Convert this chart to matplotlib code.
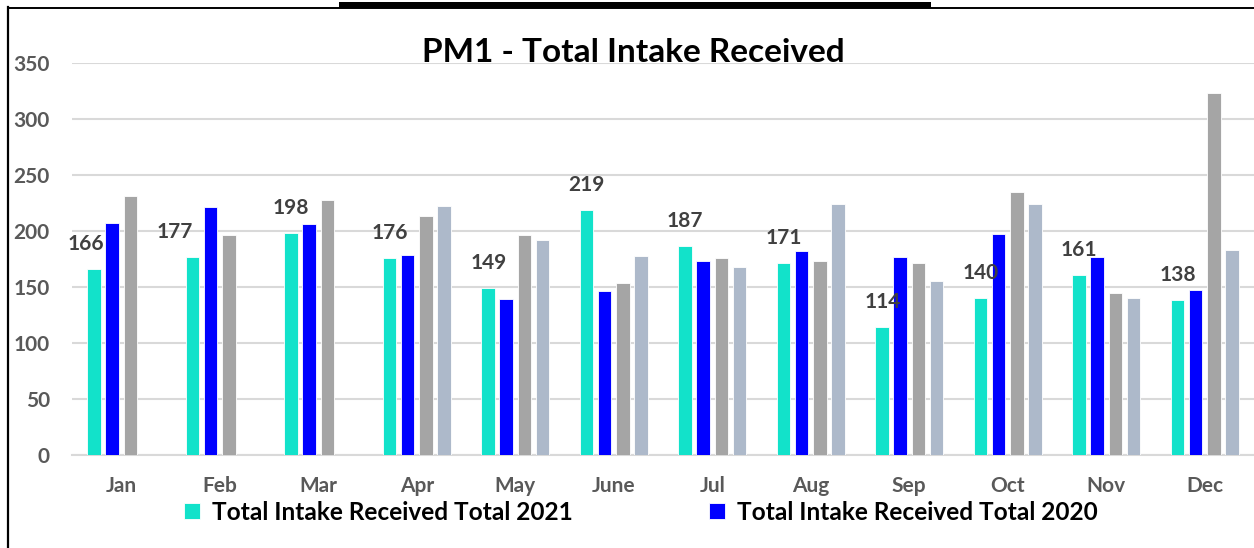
import numpy as np
import matplotlib
matplotlib.use("Agg")
import matplotlib.pyplot as plt
from matplotlib.lines import Line2D
from matplotlib.patches import Rectangle

months = ["Jan", "Feb", "Mar", "Apr", "May", "June", "Jul", "Aug", "Sep", "Oct", "Nov", "Dec"]
total_2021 = [166, 177, 198, 176, 149, 219, 187, 171, 114, 140, 161, 138]
total_2020 = [207, 221, 206, 179, 139, 146, 173, 182, 177, 197, 177, 147]
total_2019 = [231, 196, 228, 213, 196, 154, 176, 173, 171, 235, 145, 323]
total_2018 = [np.nan, np.nan, np.nan, 222, 192, 178, 168, 224, 155, 224, 140, 183]
yticks = [0, 50, 100, 150, 200, 250, 300, 350]
title = "PM1 - Total Intake Received"
legend_labels = ["Total Intake Received Total 2021", "Total Intake Received Total 2020"]

colors = ["#12E2CA", "#0000FF", "#A5A5A5", "#ADB9CA"]
FONT = "Lato"

W, H = 1254, 548
fig = plt.figure(figsize=(W / 100, H / 100), dpi=100)
fig.patch.set_facecolor("white")

left, right, bottom, top = 72, 1254, 455, 63
ax = fig.add_axes([left / W, 1 - bottom / H, (right - left) / W, (bottom - top) / H])

x = np.arange(len(months))
width = 0.137
pitch = 0.183
series = [total_2021, total_2020, total_2019, total_2018]
bars = []
for i, (vals, c) in enumerate(zip(series, colors)):
    b = ax.bar(x + (i - 1.5) * pitch, vals, width, color=c, edgecolor="white",
               linewidth=0.6, zorder=3)
    bars.append(b)

label_dx = {0: -6, 1: -13}
for i, (rect, v) in enumerate(zip(bars[0], total_2021)):
    ax.annotate(str(v), (rect.get_x() + rect.get_width() / 2, v),
                xytext=(label_dx.get(i, 0), 18), textcoords="offset points",
                ha="center", va="center", fontsize=15, fontweight="bold",
                color="#404040", family=FONT, annotation_clip=False, zorder=4)

ax.set_xlim(-0.5, len(months) - 0.5)
ax.set_ylim(0, 350)
ax.set_yticks(yticks)
ax.set_xticks(x)
ax.set_xticklabels(months)
ax.grid(axis="y", color="#D9D9D9", linewidth=1.5, zorder=0)
ax.set_axisbelow(True)
for s in ["top", "right", "left"]:
    ax.spines[s].set_visible(False)
ax.spines["bottom"].set_color("#D9D9D9")
ax.spines["bottom"].set_linewidth(1.5)
ax.tick_params(axis="both", length=0)
ax.tick_params(axis="x", pad=15)
ax.tick_params(axis="y", pad=16)
for lab in ax.get_xticklabels() + ax.get_yticklabels():
    lab.set_fontfamily(FONT)
    lab.set_fontweight("bold")
    lab.set_fontsize(15)
    lab.set_color("#595959")

fig.text(633 / W, 1 - 52 / H, title, ha="center", va="center", fontsize=24,
         fontweight="bold", color="black", family=FONT)

leg = fig.legend([bars[0], bars[1]], legend_labels, loc="center",
                 bbox_to_anchor=(641 / W, 1 - 512 / H), ncol=2, frameon=False,
                 handlelength=0.62, handleheight=0.62, handletextpad=0.5,
                 columnspacing=5.6,
                 prop={"family": FONT, "weight": "bold", "size": 17.6})
for t in leg.get_texts():
    t.set_color("black")

# decorative frame
fig.add_artist(Line2D([8 / W, 8 / W], [0, 1 - 7 / H], transform=fig.transFigure,
                      color="black", linewidth=1.6))
fig.add_artist(Line2D([8 / W, 1], [1 - 7.5 / H, 1 - 7.5 / H], transform=fig.transFigure,
                      color="black", linewidth=1.4))
fig.add_artist(Rectangle((339 / W, 1 - 7.5 / H), (931 - 339) / W, 5.5 / H,
                         transform=fig.transFigure, color="black", linewidth=0))

fig.savefig("out.png", dpi=100, facecolor="white")
